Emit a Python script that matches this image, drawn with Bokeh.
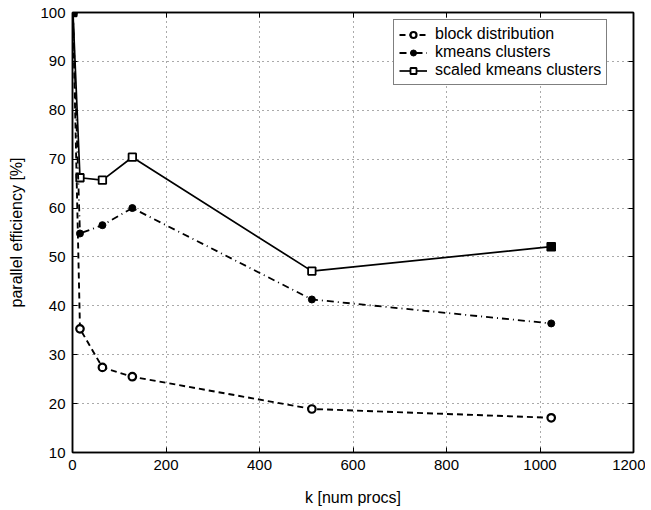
from bokeh.plotting import figure
from bokeh.models import LinearAxis, FixedTicker, Legend, LegendItem, CustomLabelingPolicy
from bokeh.embed import file_html
from bokeh.resources import INLINE

procs = [1, 16, 64, 128, 512, 1024]
block_distribution = [100, 35.3, 27.4, 25.5, 18.9, 17.1]
kmeans_clusters = [100, 54.8, 56.5, 60.0, 41.3, 36.4]
scaled_kmeans_clusters = [100, 66.2, 65.7, 70.4, 47.1, 52.1]
x_ticks = [0, 200, 400, 600, 800, 1000, 1200]
y_ticks = [10, 20, 30, 40, 50, 60, 70, 80, 90, 100]

FONT = "Liberation Sans"

p = figure(width=645, height=508, output_backend="svg", toolbar_location=None,
           x_range=(0, 1200), y_range=(10, 100),
           min_border_left=72, min_border_right=12, min_border_top=12, min_border_bottom=55)
p.background_fill_color = "white"
p.border_fill_color = "white"
p.outline_line_color = "black"
p.outline_line_width = 1.5

for ax in (p.xaxis[0], p.yaxis[0]):
    ax.major_tick_in = 5
    ax.major_tick_out = 0
    ax.minor_tick_line_color = None
    ax.axis_line_color = "black"
    ax.axis_line_width = 1.5
    ax.major_label_text_font = FONT
    ax.major_label_text_font_size = "15px"
    ax.major_label_text_color = "black"
    ax.axis_label_text_font = FONT
    ax.axis_label_text_font_size = "16px"
    ax.axis_label_text_font_style = "normal"
    ax.axis_label_text_color = "black"

p.xaxis[0].ticker = FixedTicker(ticks=x_ticks)
p.yaxis[0].ticker = FixedTicker(ticks=y_ticks)
p.xaxis[0].axis_label = "k [num procs]"
p.yaxis[0].axis_label = "parallel efficiency [%]"
p.xaxis[0].major_label_standoff = 7
p.yaxis[0].major_label_standoff = 7
p.xaxis[0].axis_label_standoff = 16
p.yaxis[0].axis_label_standoff = 12

no_labels = CustomLabelingPolicy(code="return []")
ax_r = LinearAxis(ticker=FixedTicker(ticks=y_ticks), major_tick_in=5, major_tick_out=0,
                  minor_tick_line_color=None, major_label_policy=no_labels,
                  major_label_text_font_size="1px", major_label_standoff=0,
                  axis_line_color="black", axis_line_width=1.5)
ax_t = LinearAxis(ticker=FixedTicker(ticks=x_ticks), major_tick_in=5, major_tick_out=0,
                  minor_tick_line_color=None, major_label_policy=no_labels,
                  major_label_text_font_size="1px", major_label_standoff=0,
                  axis_line_color="black", axis_line_width=1.5)
p.add_layout(ax_r, "right")
p.add_layout(ax_t, "above")

p.xgrid.ticker = FixedTicker(ticks=x_ticks)
p.ygrid.ticker = FixedTicker(ticks=y_ticks)
for g in (p.xgrid, p.ygrid):
    g.grid_line_color = "#555555"
    g.grid_line_dash = "1 4"
    g.grid_line_width = 1

l3 = p.line(procs, scaled_kmeans_clusters, line_color="black", line_width=1.7)
m3 = p.scatter(procs[:-1], scaled_kmeans_clusters[:-1], marker="square", size=7.5,
               fill_color="white", line_color="black", line_width=1.8)
m3b = p.scatter(procs[-1:], scaled_kmeans_clusters[-1:], marker="square", size=8,
                fill_color="black", line_color="black", line_width=1.6)
l1 = p.line(procs, block_distribution, line_color="black", line_width=1.9, line_dash="6 4")
m1 = p.scatter(procs, block_distribution, marker="circle", size=7.5, fill_color="white",
               line_color="black", line_width=2.2)
l2 = p.line(procs, kmeans_clusters, line_color="black", line_width=1.8, line_dash="7 4 1 4")
m2 = p.scatter(procs, kmeans_clusters, marker="circle", size=7, fill_color="black",
               line_color="black")

legend = Legend(items=[
    LegendItem(label="block distribution", renderers=[l1, m1]),
    LegendItem(label="kmeans clusters", renderers=[l2, m2]),
    LegendItem(label="scaled kmeans clusters", renderers=[l3, m3]),
], location=(321, 367))
legend.label_text_font = FONT
legend.label_text_font_size = "16px"
legend.label_text_color = "black"
legend.border_line_color = "black"
legend.border_line_width = 1.2
legend.background_fill_alpha = 1
legend.glyph_width = 28
legend.glyph_height = 15
legend.label_height = 15
legend.spacing = 0
legend.padding = 5
legend.margin = 0
legend.label_standoff = 8
p.add_layout(legend, "center")

open("out.html", "w").write(file_html(p, INLINE))
